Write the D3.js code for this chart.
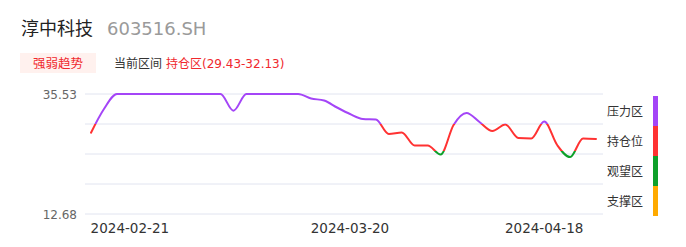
<!DOCTYPE html>
<html><head><meta charset="utf-8">
<script src="https://cdn.jsdelivr.net/npm/d3@7"></script>
<style>
html,body{margin:0;padding:0;background:#fff;}
svg{display:block;font-family:"DejaVu Sans","Noto Sans CJK SC",sans-serif;}
</style></head>
<body><svg id="c" width="686" height="247"></svg>
<script>
// ---- data ----
const stockName = "淳中科技";
const stockCode = "603516.SH";
const badgeText = "强弱趋势";
const rangeLabel = "当前区间";
const rangeValue = "持仓区(29.43-32.13)";
const values = [28.16, 32.67, 35.53, 35.53, 35.53, 35.53, 35.53, 35.53, 35.53, 35.53,
                35.53, 32.35, 35.53, 35.53, 35.53, 35.53, 35.53, 34.67, 34.29, 32.96,
                31.72, 30.77, 30.67, 27.91, 28.20, 25.72, 25.72, 24.01, 29.63, 31.91,
                30.20, 28.48, 29.70, 27.15, 27.06, 30.29, 25.82, 23.53, 27.06, 26.96];
const tickIndex = [3, 20, 35];
const tickLabels = ["2024-02-21", "2024-03-20", "2024-04-18"];
const yDomain = [12.68, 35.53];
const yTickLabels = ["35.53", "12.68"];
const zoneNames = ["压力区", "持仓位", "观望区", "支撑区"];
const zoneColors = ["#a445f7", "#ff3232", "#0ea02a", "#ffaa00"];
const zoneThresholds = [29.85, 24.6, 18.0]; // boundaries between zones (value)

// ---- layout ----
const svg = d3.select("#c");
const x = d3.scaleLinear().domain([0, values.length - 1]).range([91, 596]);
const y = d3.scaleLinear().domain(yDomain).range([214, 94]);

// header
svg.append("text").attr("x", 21).attr("y", 35).attr("font-size", 18).attr("fill", "#222").text(stockName);
svg.append("text").attr("x", 107).attr("y", 35).attr("font-size", 18).attr("fill", "#9a9a9a").text(stockCode);
svg.append("rect").attr("x", 20).attr("y", 53).attr("width", 76).attr("height", 20).attr("fill", "#fff1ee");
svg.append("text").attr("x", 58).attr("y", 67.5).attr("text-anchor", "middle").attr("font-size", 12.5).attr("fill", "#f0282d").text(badgeText);
svg.append("text").attr("x", 114).attr("y", 67.5).attr("font-size", 12).attr("fill", "#333").text(rangeLabel);
svg.append("text").attr("x", 166).attr("y", 67.5).attr("font-size", 12).attr("fill", "#f0282d").text(rangeValue);

// grid
const gridVals = d3.range(5).map(i => yDomain[0] + (yDomain[1] - yDomain[0]) * i / 4);
svg.append("g").selectAll("line").data(gridVals).join("line")
   .attr("x1", 85).attr("x2", 603).attr("y1", d => y(d)).attr("y2", d => y(d))
   .attr("stroke", "#e1e4f0").attr("stroke-width", 1);

// y labels
svg.append("g").selectAll("text").data(yTickLabels).join("text")
   .attr("x", 77).attr("y", d => y(+d) + 4.5).attr("text-anchor", "end")
   .attr("font-size", 12).attr("fill", "#666")
   .text(d => d);

// x labels
svg.append("g").selectAll("text").data(tickIndex).join("text")
   .attr("x", d => x(d)).attr("y", 233).attr("text-anchor", "middle")
   .attr("font-size", 13.5).attr("fill", "#333")
   .text((d, i) => tickLabels[i]);

// gradient by value zones
const defs = svg.append("defs");
const grad = defs.append("linearGradient").attr("id", "zoneGrad")
   .attr("gradientUnits", "userSpaceOnUse").attr("x1", 0).attr("x2", 0)
   .attr("y1", y(yDomain[1])).attr("y2", y(yDomain[0]));
const span = y(yDomain[0]) - y(yDomain[1]);
const bounds = [yDomain[1], ...zoneThresholds, yDomain[0]];
zoneColors.forEach((c, i) => {
  grad.append("stop").attr("offset", (y(bounds[i]) - y(yDomain[1])) / span).attr("stop-color", c);
  grad.append("stop").attr("offset", (y(bounds[i + 1]) - y(yDomain[1])) / span).attr("stop-color", c);
});

const line = d3.line().x((d, i) => x(i)).y(d => y(d)).curve(d3.curveMonotoneX);
svg.append("path").datum(values).attr("d", line).attr("fill", "none")
   .attr("stroke", "url(#zoneGrad)").attr("stroke-width", 2).attr("stroke-linejoin", "round").attr("stroke-linecap", "round");

// legend
const legY = d3.scaleBand().domain(zoneNames).range([96, 216]);
const leg = svg.append("g");
leg.selectAll("rect").data(zoneNames).join("rect")
   .attr("x", 653).attr("y", d => legY(d)).attr("width", 5).attr("height", legY.bandwidth())
   .attr("fill", (d, i) => zoneColors[i]);
leg.selectAll("text").data(zoneNames).join("text")
   .attr("x", 607).attr("y", d => legY(d) + legY.bandwidth() / 2 + 4.5)
   .attr("font-size", 12).attr("fill", "#333").text(d => d);
</script></body></html>
